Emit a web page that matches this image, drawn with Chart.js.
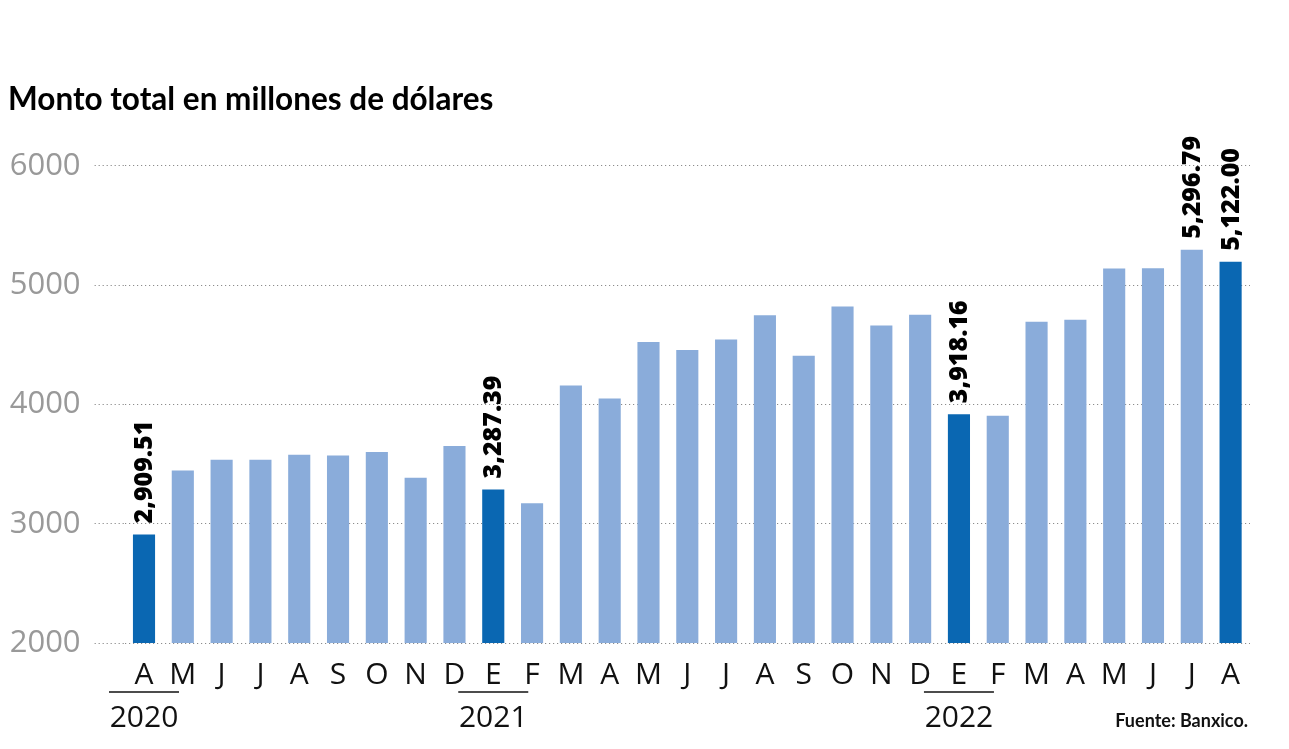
<!DOCTYPE html>
<html>
<head>
<meta charset="utf-8">
<script src="https://cdn.jsdelivr.net/npm/chart.js@4/dist/chart.umd.min.js"></script>
<style>
  html, body { margin: 0; padding: 0; background: #fff; }
  #wrap { width: 1289px; height: 749px; position: relative; }
</style>
</head>
<body>
<div id="wrap"><canvas id="c" width="1289" height="749"></canvas></div>
<script>
const months = ['A','M','J','J','A','S','O','N','D','E','F','M','A','M','J','J','A','S','O','N','D','E','F','M','A','M','J','J','A'];
const years = ['2020','','','','','','','','','2021','','','','','','','','','','','','2022','','','','','','',''];
const values = [2909.51,3445,3537,3535,3577,3571,3602,3386,3652,3287.39,3171,4158,4049,4524,4457,4544,4748,4407,4820,4661,4751,3918.16,3905,4692,4709,5139,5142,5296.79,5195];
const highlighted = [0, 9, 21, 28];
const valueLabels = {0: '2,909.51', 9: '3,287.39', 21: '3,918.16', 27: '5,296.79', 28: '5,122.00'};
const yTicks = [2000, 3000, 4000, 5000, 6000];
const titleText = 'Monto total en millones de dólares';
const sourceText = 'Fuente: Banxico.';

const LIGHT = '#8aacda';
const DARK = '#0a67b2';

const labels = months.map((m, i) => [m, years[i]]);
const colors = values.map((v, i) => highlighted.includes(i) ? DARK : LIGHT);

const extras = {
  id: 'extras',
  afterDatasetsDraw(chart) {
    const ctx = chart.ctx;
    const meta = chart.getDatasetMeta(0);
    ctx.save();
    ctx.fillStyle = '#000';
    ctx.font = '800 25px "Open Sans"';
    ctx.textAlign = 'left';
    ctx.textBaseline = 'middle';
    Object.keys(valueLabels).forEach(k => {
      const el = meta.data[+k];
      ctx.save();
      ctx.translate(el.x, el.y - 11);
      ctx.rotate(-Math.PI / 2);
      ctx.fillText(valueLabels[k], 0, 1);
      ctx.restore();
    });
    ctx.restore();
  },
  afterDraw(chart) {
    const ctx = chart.ctx;
    const xs = chart.scales.x;
    ctx.save();
    ctx.strokeStyle = '#111';
    ctx.lineWidth = 1.5;
    years.forEach((y, i) => {
      if (!y) return;
      const cx = xs.getPixelForValue(i);
      const half = 35;
      ctx.beginPath();
      ctx.moveTo(cx - half, 692);
      ctx.lineTo(cx + half, 692);
      ctx.stroke();
    });
    ctx.fillStyle = '#111';
    ctx.font = 'bold 18px Lato';
    ctx.textAlign = 'right';
    ctx.textBaseline = 'alphabetic';
    ctx.fillText(sourceText, 1248, 727);
    ctx.restore();
  }
};

new Chart(document.getElementById('c'), {
  type: 'bar',
  data: {
    labels: labels,
    datasets: [{
      data: values,
      backgroundColor: colors,
      borderWidth: 0,
      categoryPercentage: 1.0,
      barPercentage: 0.57
    }]
  },
  options: {
    responsive: false,
    animation: false,
    devicePixelRatio: 1,
    layout: { padding: { left: 8, right: 39, top: 0, bottom: 0 } },
    plugins: {
      legend: { display: false },
      tooltip: { enabled: false },
      title: {
        display: true,
        text: titleText,
        align: 'start',
        color: '#000',
        font: { family: 'Lato', weight: 'bold', size: 31.5, lineHeight: 1.2 },
        padding: { top: 81, bottom: 47 }
      }
    },
    scales: {
      y: {
        min: 2000,
        max: 6000,
        afterFit(scale) { scale.width = 116.6; },
        afterBuildTicks(scale) { scale.ticks = yTicks.map(v => ({ value: v })); },
        ticks: {
          color: '#999999',
          font: { family: 'Open Sans', size: 31 },
          padding: 14,
          callback: v => String(v)
        },
        grid: {
          color: '#8c8c8c',
          lineWidth: 1,
          drawTicks: true,
          tickLength: 30,
          tickColor: '#8c8c8c',
          tickBorderDash: [1.2, 2.8]
        },
        border: { display: false, dash: [1.2, 2.8] }
      },
      x: {
        afterFit(scale) { scale.height = 106; },
        grid: { display: false },
        border: { display: false },
        ticks: {
          color: '#111',
          font: { family: 'Open Sans', size: 30, lineHeight: 1.43 },
          padding: 3,
          maxRotation: 0,
          autoSkip: false
        }
      }
    }
  },
  plugins: [extras]
});
</script>
</body>
</html>
